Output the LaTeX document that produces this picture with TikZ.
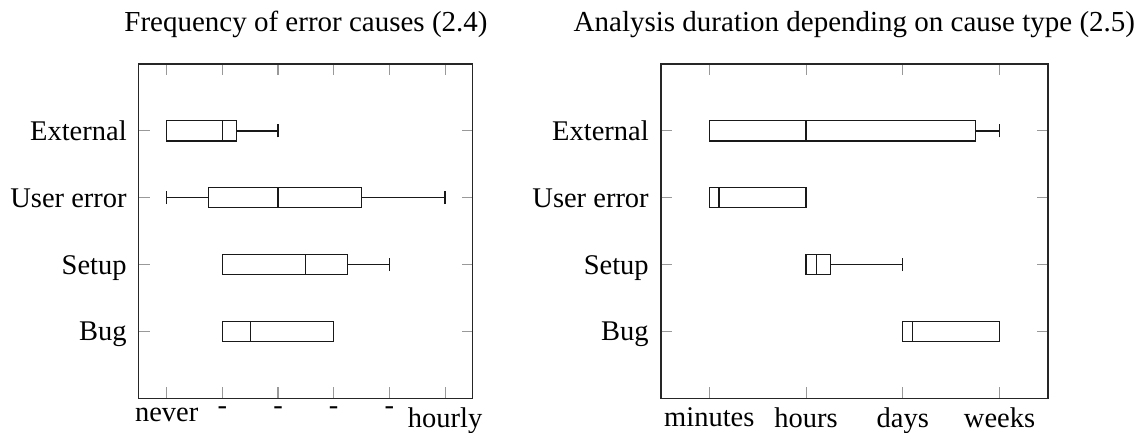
\documentclass[tikz,border=0pt]{standalone}
\usepackage{fontspec}
\setmainfont{Liberation Serif}
\usetikzlibrary{calc}

% one horizontal box plot: #1 row, #2 lower whisker, #3 first quartile,
% #4 median, #5 third quartile, #6 upper whisker
\newcommand{\drawbp}[6]{%
  \draw[bpline] (#2,#1) -- (#3,#1) (#5,#1) -- (#6,#1);
  \draw[bpline] (#2,#1-0.097) -- (#2,#1+0.097) (#6,#1-0.097) -- (#6,#1+0.097);
  \draw[bpline] (#3,#1-0.15) rectangle (#5,#1+0.15);
  \draw[bpline] (#4,#1-0.15) -- (#4,#1+0.15);
}

\tikzset{
  txt/.style={font=\fontsize{28.5}{34}\selectfont, inner sep=0pt, text=black},
  ttl/.style={txt, font=\fontsize{29}{35}\selectfont, anchor=base},
  ylbl/.style={txt, anchor=base east, xshift=-12pt, yshift=-9.5pt},
  xlbl/.style={txt, anchor=north, yshift=-9.5pt},
  frame/.style={draw=black!85, line width=1.15pt},
  tickln/.style={draw=black!40, line width=1.1pt},
  bpline/.style={draw=black!90, line width=1.2pt},
}

\begin{document}
\begin{tikzpicture}[x=1pt, y=-1pt]
\useasboundingbox (0,0) rectangle (1142,432);

\node[ttl] (t1) at (306,31.7) {Frequency of error causes (2.4)};
\node[ttl] (t2) at (854.4,31.7) {Analysis duration depending on cause type (2.5)};

% ---- frequency of error causes ----
\begin{scope}[shift={(166.7pt,-398.3pt)}, x=55.67pt, y=66.85pt]
  \foreach \v in {0,...,5} {
    \draw[tickln] (\v,0) -- ++(0,11pt);
    \draw[tickln] (\v,5) -- ++(0,-11pt);
  }
  \foreach \c in {1,...,4} {
    \draw[tickln] (-0.5,\c) -- ++(11pt,0);
    \draw[tickln] (5.5,\c) -- ++(-11pt,0);
  }
  \draw[frame] (-0.5,0) rectangle (5.5,5);

  \drawbp{4}{0}{0}{1}{1.25}{2}
  \drawbp{3}{0}{0.75}{2}{3.5}{5}
  \drawbp{2}{1}{1}{2.5}{3.25}{4}
  \drawbp{1}{1}{1}{1.5}{3}{3}

  \node[ylbl] (le) at (-0.5,4) {External};
  \node[ylbl] (lu) at (-0.5,3) {User error};
  \node[ylbl] (ls) at (-0.5,2) {Setup};
  \node[ylbl] (lb) at (-0.5,1) {Bug};

  \node[xlbl] (fn) at (0,0) {never};
  \node[xlbl, yshift=1.5pt] (f1) at (1,0) {-};
  \node[xlbl, yshift=1.5pt] (f2) at (2,0) {-};
  \node[xlbl, yshift=1.5pt] (f3) at (3,0) {-};
  \node[xlbl, yshift=1.5pt] (f4) at (4,0) {-};
  \node[xlbl] (fh) at (5,0) {hourly};
\end{scope}

% ---- analysis duration ----
\begin{scope}[shift={(709.3pt,-398.3pt)}, x=96.75pt, y=66.85pt]
  \foreach \v in {0,...,3} {
    \draw[tickln] (\v,0) -- ++(0,11pt);
    \draw[tickln] (\v,5) -- ++(0,-11pt);
  }
  \foreach \c in {1,...,4} {
    \draw[tickln] (-0.5,\c) -- ++(11pt,0);
    \draw[tickln] (3.5,\c) -- ++(-11pt,0);
  }
  \draw[frame] (-0.5,0) rectangle (3.5,5);

  \drawbp{4}{0}{0}{1}{2.75}{3}
  \drawbp{3}{0}{0}{0.1}{1}{1}
  \drawbp{2}{1}{1}{1.11}{1.25}{2}
  \drawbp{1}{2}{2}{2.1}{3}{3}

  \node[ylbl] (re) at (-0.5,4) {External};
  \node[ylbl] (ru) at (-0.5,3) {User error};
  \node[ylbl] (rs) at (-0.5,2) {Setup};
  \node[ylbl] (rb) at (-0.5,1) {Bug};

  \node[xlbl] (dm) at (0,0) {minutes};
  \node[xlbl] (dh) at (1,0) {hours};
  \node[xlbl] (dd) at (2,0) {days};
  \node[xlbl] (dw) at (3,0) {weeks};
\end{scope}
\end{tikzpicture}
\end{document}
